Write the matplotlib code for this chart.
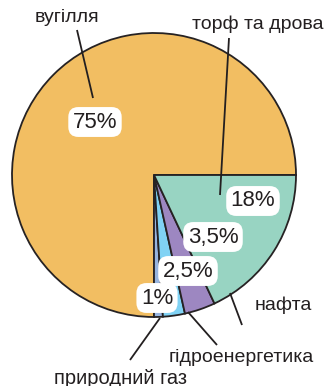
import matplotlib
matplotlib.use("Agg")
import matplotlib.pyplot as plt

plt.rcParams['font.family'] = ['Liberation Sans', 'DejaVu Sans']

# Energy sources and their shares (%)
sources = ["вугілля", "природний газ", "гідроенергетика", "нафта", "торф та дрова"]
shares = [75, 1, 2.5, 3.5, 18]
share_labels = ["75%", "1%", "2,5%", "3,5%", "18%"]
colors = ["#F2BE62", "#97B4DF", "#80D2F4", "#9D87C1", "#98D4C2"]

W, H = 330, 386
fig = plt.figure(figsize=(W / 100, H / 100), dpi=100)
ax = fig.add_axes([0, 0, 1, 1])

center = (154, 211)
radius = 142
ax.pie(shares, colors=colors, startangle=0, counterclock=True,
       center=center, radius=radius, frame=True,
       wedgeprops=dict(edgecolor="#262223", linewidth=1.3))
ax.set_xlim(0, W)
ax.set_ylim(0, H)
ax.set_aspect('equal')
ax.axis('off')

ink = "#231F20"

# percentage tags inside the wedges
tag_pos = [(95, 264), (157, 88), (188, 115), (213, 149), (253, 185)]
for txt, (x, y) in zip(share_labels, tag_pos):
    ax.text(x, y, txt, ha='center', va='center', fontsize=16, color=ink,
            bbox=dict(boxstyle='round,pad=0.2,rounding_size=0.45',
                      fc='white', ec='none'))

# source names with leader lines
name_pos = [(67, 368), (120, 8), (241, 28), (283, 81), (258, 362)]
font_sizes = [14, 14.5, 14, 14, 14]
leaders = [((77, 356), (93, 288)),
           ((130, 26), (160, 68)),
           ((217, 41), (188, 74)),
           ((242, 61), (230, 93)),
           ((229, 348), (220, 191))]
for name, (x, y), fs, (p0, p1) in zip(sources, name_pos, font_sizes, leaders):
    ax.text(x, y, name, ha='center', va='center', fontsize=fs, color=ink)
    ax.plot([p0[0], p1[0]], [p0[1], p1[1]], color=ink, lw=1.3,
            solid_capstyle='butt')

fig.savefig("out.png", dpi=100)
